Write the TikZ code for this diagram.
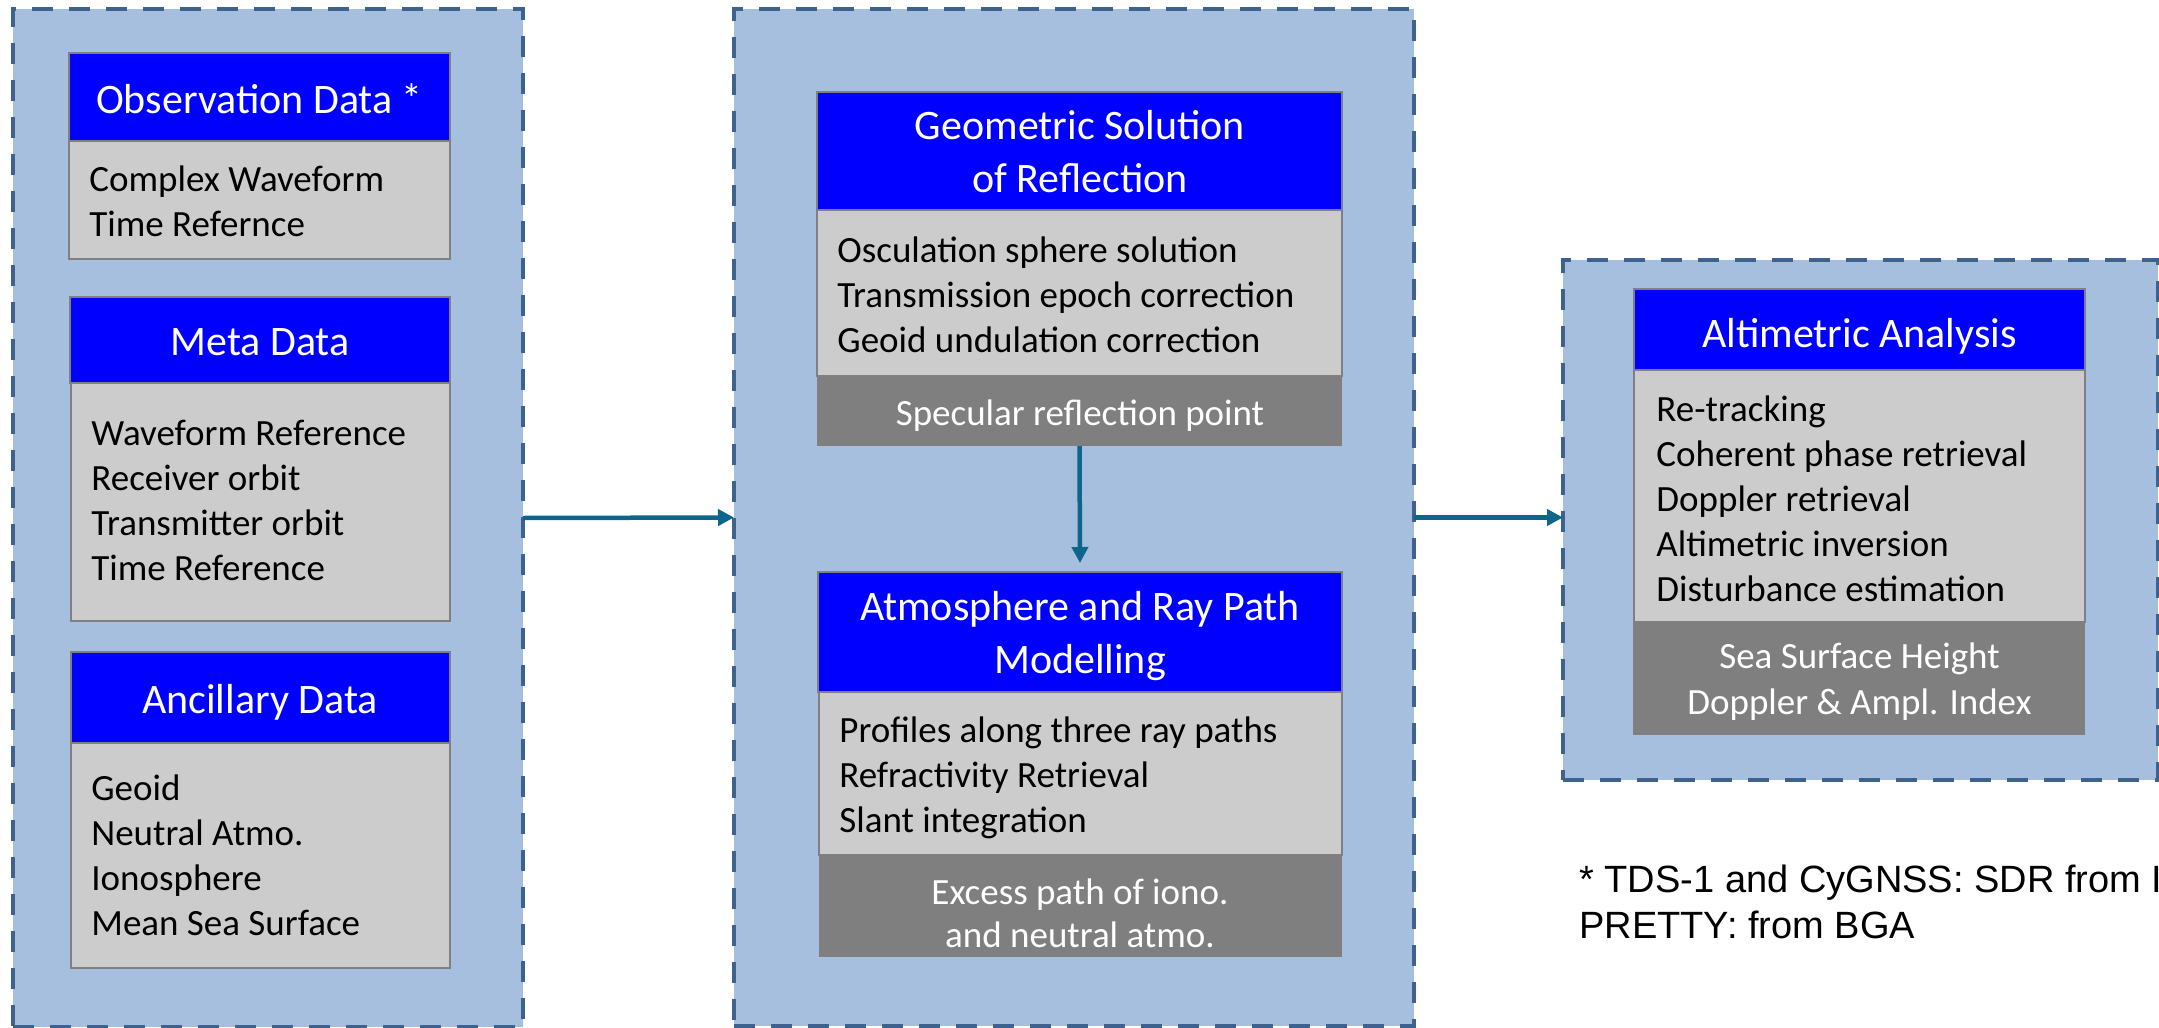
\documentclass[tikz,border=0pt]{standalone}
\usepackage{fontspec}
\setmainfont{Carlito}
\newfontfamily\arialfont{Liberation Sans}
\usetikzlibrary{fit,arrows.meta,calc}
\definecolor{outerfill}{RGB}{167,191,222}
\definecolor{outerline}{RGB}{61,98,142}
\definecolor{hdrblue}{RGB}{0,0,255}
\definecolor{bodygray}{RGB}{204,204,204}
\definecolor{edgegray}{RGB}{128,128,128}
\definecolor{footgray}{RGB}{127,127,127}
\definecolor{arrowcol}{RGB}{14,101,140}
\tikzset{
 outerbox/.style={fill=outerfill, draw=outerline, line width=2pt, dash pattern=on 10.5pt off 8pt, inner sep=0pt, outer sep=0pt},
 hdrbox/.style={fill=hdrblue, draw=edgegray, line width=1.2pt, inner sep=0pt, outer sep=0pt},
 bodybox/.style={fill=bodygray, draw=edgegray, line width=1.2pt, inner sep=0pt, outer sep=0pt},
 footbox/.style={fill=footgray, inner sep=0pt, outer sep=0pt},
 hdrtext/.style={text=white, font=\fontsize{21pt}{26.5pt}\selectfont, align=center, inner sep=0pt, anchor=base},
 bodytext/.style={text=black, font=\fontsize{18.5pt}{22.5pt}\selectfont, align=left, inner sep=0pt, anchor=base west},
 foottext/.style={text=white, font=\fontsize{18.5pt}{23pt}\selectfont, align=center, inner sep=0pt, anchor=base},
 notetext/.style={text=black, font=\arialfont\fontsize{19pt}{23pt}\selectfont, align=left, inner sep=0pt, anchor=base west},
 flow/.style={draw=arrowcol, line width=2.25pt, -{Triangle[length=8pt,width=8pt]}},
}
\begin{document}
\begin{tikzpicture}[x=0.5pt,y=-0.5pt]
\useasboundingbox (0,0) rectangle (2159,1028);
\clip (0,0) rectangle (2159,1028);
% outer dashed containers
\node[outerbox, fit={(13,9) (523,1027)}] (L) {};
\node[outerbox, fit={(734,9) (1414,1026)}] (M) {};
\node[outerbox, fit={(1563,260) (2158,780)}] (R) {};
% left column
\node[hdrbox, fit={(69,53) (450,141)}] (obsH) {};
\node[bodybox, fit={(69,141) (450,259)}] (obsB) {};
\node[hdrbox, fit={(70,297) (450,383)}] (metaH) {};
\node[bodybox, fit={(71,383) (450,621)}] (metaB) {};
\node[hdrbox, fit={(71,652) (450,743)}] (ancH) {};
\node[bodybox, fit={(71,743) (450,968)}] (ancB) {};
% middle column
\node[hdrbox, fit={(817,92) (1342,210)}] (geoH) {};
\node[bodybox, fit={(817,210) (1342,376)}] (geoB) {};
\node[footbox, fit={(817,376) (1342,446)}] (geoF) {};
\node[hdrbox, fit={(818,572) (1342,692)}] (atmH) {};
\node[bodybox, fit={(819,692) (1342,855)}] (atmB) {};
\node[footbox, fit={(819,855) (1342,957)}] (atmF) {};
% right column
\node[hdrbox, fit={(1634,289) (2085,370)}] (altH) {};
\node[bodybox, fit={(1634,370) (2085,622)}] (altB) {};
\node[footbox, fit={(1633,622) (2085,735)}] (altF) {};
% header texts (anchor = baseline of last line)
\node[hdrtext] (obsT) at (259.5,113) {Observation Data *};
\node[hdrtext] (metaT) at (260,355) {Meta Data};
\node[hdrtext] (ancT) at (260,713) {Ancillary Data};
\node[hdrtext] (geoT) at (1080,192) {Geometric Solution\\of Reflection};
\node[hdrtext] (atmT) at (1080,673) {Atmosphere and Ray Path\\Modelling};
\node[hdrtext] (altT) at (1859.5,347) {Altimetric Analysis};
% body texts (anchor = baseline of last line)
\node[bodytext] (obsL) at (89,236) {Complex Waveform\\Time Refernce};
\node[bodytext] (metaL) at (91,580) {Waveform Reference\\Receiver orbit\\Transmitter orbit\\Time Reference};
\node[bodytext] (ancL) at (91,935) {Geoid\\Neutral Atmo.\\Ionosphere\\Mean Sea Surface};
\node[bodytext] (geoL) at (837,352) {Osculation sphere solution\\Transmission epoch correction\\Geoid undulation correction};
\node[bodytext] (atmL) at (839,832) {Profiles along three ray paths\\Refractivity Retrieval\\Slant integration};
\node[bodytext] (altL) at (1656,601) {Re-tracking\\Coherent phase retrieval\\Doppler retrieval\\Altimetric inversion\\Disturbance estimation};
% footer texts
\node[foottext] (geoFT) at (1080,425) {Specular reflection point};
\node[foottext, font=\fontsize{18.5pt}{21.5pt}\selectfont] (atmFT) at (1080,947) {Excess path of iono.\\and neutral atmo.};
\node[foottext] (altFT) at (1859.5,714) {Sea Surface Height\\Doppler \& Ampl. Index};
% footnote
\node[notetext] (note) at (1579,938) {* TDS-1 and CyGNSS: SDR from I\\PRETTY: from BGA};
% connectors
\draw[flow] (L.east) -- (M.west);
\draw[flow] (geoF.south) -- ([yshift=4.5pt]atmH.north);
\draw[flow] (M.east) -- (M.east -| R.west);
\end{tikzpicture}
\end{document}
